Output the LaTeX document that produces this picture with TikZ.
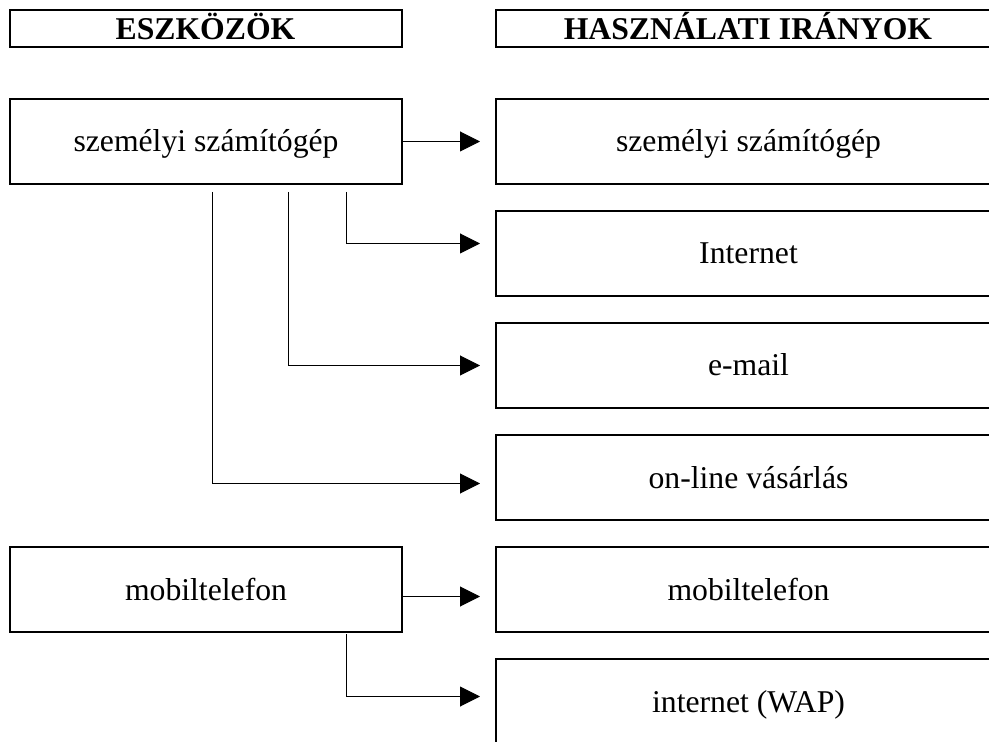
\documentclass[tikz,border=0pt]{standalone}
\usepackage{fontspec}
\setmainfont{Liberation Serif}
\usetikzlibrary{arrows.meta, positioning}

\begin{document}
\begin{tikzpicture}[
    x=0.5pt, y=-0.5pt,
    head/.style={rectangle,draw,line width=1pt,minimum width=196pt,
        minimum height=18.5pt,inner sep=0pt,text height=11.5pt,text depth=0.5pt,
        font=\fontsize{15.85}{19}\selectfont\bfseries},
    device/.style={rectangle,draw,line width=1pt,minimum width=196pt,
        minimum height=42.5pt,inner sep=0pt,text height=11.25pt,text depth=0.75pt,
        font=\fontsize{15.85}{19}\selectfont},
    usage/.style={device,minimum width=252.5pt},
    link/.style={line width=0.5pt,-{Triangle[length=10pt,width=10pt]},shorten >=7.5pt}]

        \useasboundingbox (0,0) rectangle (989,742);
        \clip (0,0) rectangle (989,742);

        \node[head] (hdr_dev) at (205.5,29) {ESZKÖZÖK};
        \node[head, minimum width=252.5pt] (hdr_use) [right=46pt of hdr_dev]
              {HASZNÁLATI IRÁNYOK};

        \node[device] (pc) at (206,141.5) {személyi számítógép};

        \node[usage] (u_pc) [right=46pt of pc] {személyi számítógép};
        \node[usage] (u_net) [below=12.5pt of u_pc] {Internet};
        \node[usage] (u_mail) [below=12.5pt of u_net] {e-mail};
        \node[usage] (u_shop) [below=12.5pt of u_mail] {on-line vásárlás};
        \node[usage] (u_mob) [below=12.5pt of u_shop] {mobiltelefon};
        \node[usage] (u_wap) [below=12.5pt of u_mob] {internet (WAP)};

        \node[device] (mob) [left=46pt of u_mob] {mobiltelefon};

        \coordinate (pc_a) at (346,192);
        \coordinate (pc_b) at (288,192);
        \coordinate (pc_c) at (212,192);
        \coordinate (mob_a) at (346,634);

         \draw[link] (pc) -- (u_pc);
         \draw[link] (pc_a) |- ([yshift=5pt]u_net.west);
         \draw[link] (pc_b) |- (u_mail.west);
         \draw[link] (pc_c) |- ([yshift=-3pt]u_shop.west);

         \draw[link] ([yshift=-3.5pt]mob.east) -- ([yshift=-3.5pt]u_mob.west);
         \draw[link] (mob_a) |- ([yshift=2.5pt]u_wap.west);

    \end{tikzpicture}
\end{document}
